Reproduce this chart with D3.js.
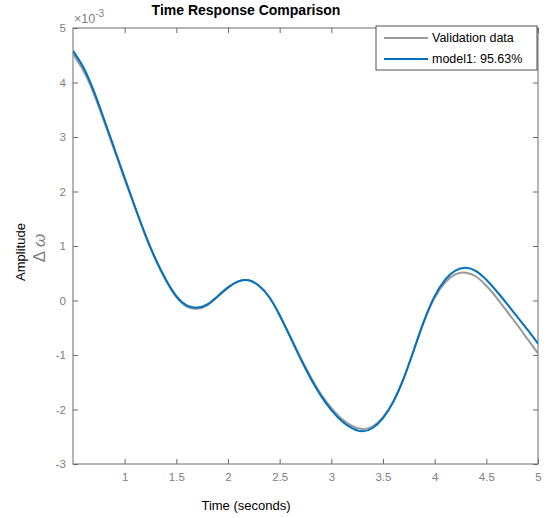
<!DOCTYPE html>
<html>
<head>
<meta charset="utf-8">
<script src="https://cdn.jsdelivr.net/npm/d3@7"></script>
<style>
  body { margin: 0; background: #fff; }
  svg { display: block; font-family: Arial, 'Liberation Sans', sans-serif; }
</style>
</head>
<body>
<svg width="553" height="518"></svg>
<script>
// time axis (seconds) and the two responses, in units of 1e-3
const time = [0.5, 0.6, 0.7, 0.8, 0.9, 1.0, 1.1, 1.2, 1.3, 1.4, 1.5, 1.6, 1.7, 1.8, 1.9,
  2.0, 2.1, 2.2, 2.3, 2.4, 2.5, 2.6, 2.7, 2.8, 2.9, 3.0, 3.1, 3.2, 3.3, 3.4,
  3.5, 3.6, 3.7, 3.8, 3.9, 4.0, 4.1, 4.2, 4.3, 4.4, 4.5, 4.6, 4.7, 4.8, 4.9, 5.0];
const validation = [4.52, 4.22, 3.80, 3.29, 2.76, 2.22, 1.70, 1.19, 0.74, 0.36, 0.06, -0.11, -0.15, -0.09, 0.07,
  0.23, 0.35, 0.37, 0.27, 0.06, -0.27, -0.65, -1.04, -1.40, -1.72, -1.97, -2.17, -2.30, -2.36, -2.31,
  -2.14, -1.85, -1.43, -0.90, -0.37, 0.05, 0.33, 0.48, 0.51, 0.44, 0.27, 0.05, -0.20, -0.45, -0.71, -0.97];
const model1 = [4.58, 4.28, 3.85, 3.33, 2.79, 2.25, 1.72, 1.21, 0.76, 0.38, 0.08, -0.09, -0.13, -0.07, 0.08,
  0.24, 0.35, 0.37, 0.27, 0.06, -0.27, -0.66, -1.06, -1.43, -1.75, -2.01, -2.21, -2.34, -2.40, -2.34,
  -2.16, -1.86, -1.43, -0.90, -0.36, 0.08, 0.38, 0.55, 0.60, 0.54, 0.38, 0.17, -0.06, -0.30, -0.54, -0.79];
const xTicks = [1, 1.5, 2, 2.5, 3, 3.5, 4, 4.5, 5];
const yTicks = [-3, -2, -1, 0, 1, 2, 3, 4, 5];
const legendLabels = ['Validation data', 'model1: 95.63%'];
const colors = ['#999999', '#0072BD'];

const margin = { top: 28, right: 15, bottom: 54, left: 73 };
const width = 553 - margin.left - margin.right;
const height = 518 - margin.top - margin.bottom;

const svg = d3.select('svg');
const g = svg.append('g')
  .attr('transform', `translate(${margin.left},${margin.top})`);

const x = d3.scaleLinear().domain([0.5, 5]).range([0, width]);
const y = d3.scaleLinear().domain([-3, 5]).range([height, 0]);

const axisColor = '#6b6b6b';
const textColor = '#808080';

function styleAxis(sel, showText) {
  sel.select('.domain').remove();
  sel.selectAll('.tick line').attr('stroke', axisColor);
  sel.selectAll('.tick text')
    .attr('fill', textColor)
    .attr('font-size', '11.5px')
    .style('display', showText ? null : 'none');
}

g.append('g')
  .attr('transform', `translate(0,${height})`)
  .call(d3.axisBottom(x).tickValues(xTicks).tickSizeInner(-5).tickSizeOuter(0).tickPadding(9)
    .tickFormat(d => String(d)))
  .call(s => styleAxis(s, true));

g.append('g')
  .call(d3.axisTop(x).tickValues(xTicks).tickSizeInner(-5).tickSizeOuter(0))
  .call(s => styleAxis(s, false));

g.append('g')
  .call(d3.axisLeft(y).tickValues(yTicks).tickSizeInner(-5).tickSizeOuter(0).tickPadding(7)
    .tickFormat(d => String(d)))
  .call(s => styleAxis(s, true));

g.append('g')
  .attr('transform', `translate(${width},0)`)
  .call(d3.axisRight(y).tickValues(yTicks).tickSizeInner(-5).tickSizeOuter(0))
  .call(s => styleAxis(s, false));

// axes box
g.append('rect')
  .attr('width', width)
  .attr('height', height)
  .attr('fill', 'none')
  .attr('stroke', axisColor)
  .attr('stroke-width', 1);

g.append('clipPath').attr('id', 'clip')
  .append('rect').attr('width', width).attr('height', height);

const line = d3.line()
  .x((d, i) => x(time[i]))
  .y(d => y(d))
  .curve(d3.curveNatural);

[validation, model1].forEach((series, i) => {
  g.append('path')
    .datum(series)
    .attr('clip-path', 'url(#clip)')
    .attr('fill', 'none')
    .attr('stroke', colors[i])
    .attr('stroke-width', 2)
    .attr('d', line);
});

// exponent label
const expo = g.append('text')
  .attr('x', 1)
  .attr('y', -5)
  .attr('fill', textColor)
  .attr('font-size', '12.5px');
expo.append('tspan').text('\u00d710');
expo.append('tspan').attr('dy', -6).attr('font-size', '10px').text('-3');

// title
svg.append('text')
  .attr('x', 246)
  .attr('y', 15)
  .attr('text-anchor', 'middle')
  .attr('font-weight', 'bold')
  .attr('font-size', '14px')
  .text('Time Response Comparison');

// x label
svg.append('text')
  .attr('x', 246)
  .attr('y', 510)
  .attr('text-anchor', 'middle')
  .attr('font-size', '13px')
  .text('Time (seconds)');

// y labels
svg.append('text')
  .attr('transform', 'translate(25,252) rotate(-90)')
  .attr('text-anchor', 'middle')
  .attr('font-size', '13px')
  .text('Amplitude');

svg.append('text')
  .attr('transform', 'translate(45,248) rotate(-90)')
  .attr('text-anchor', 'middle')
  .attr('fill', textColor)
  .attr('font-size', '17px')
  .html('\u0394 <tspan font-style="italic">\u03c9</tspan>');

// legend
const legend = svg.append('g').attr('transform', 'translate(376,26)');
legend.append('rect')
  .attr('width', 161)
  .attr('height', 44)
  .attr('fill', '#fff')
  .attr('stroke', '#262626')
  .attr('stroke-width', 0.8);

const rows = legend.selectAll('.row')
  .data(legendLabels)
  .enter().append('g')
  .attr('class', 'row')
  .attr('transform', (d, i) => `translate(0,${12 + i * 21})`);

rows.append('line')
  .attr('x1', 8).attr('x2', 52)
  .attr('stroke', (d, i) => colors[i])
  .attr('stroke-width', 2);

rows.append('text')
  .attr('x', 56)
  .attr('dy', '0.35em')
  .attr('font-size', '12.5px')
  .attr('fill', '#000')
  .text(d => d);
</script>
</body>
</html>
